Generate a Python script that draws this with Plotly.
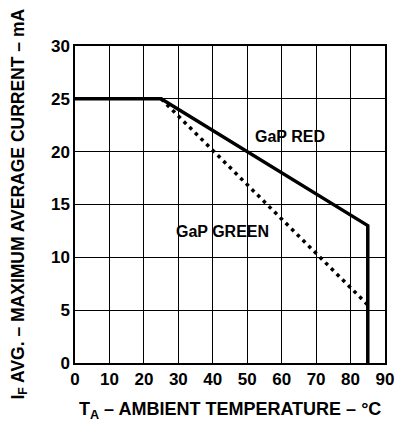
import plotly.graph_objects as go

# Data
red_x = [0, 25, 85, 85]
red_y = [25, 25, 13, 0]
green_x = [25, 85]
green_y = [25, 5.5]
x_ticks = [0, 10, 20, 30, 40, 50, 60, 70, 80, 90]
y_ticks = [0, 5, 10, 15, 20, 25, 30]
red_label = "GaP RED"
green_label = "GaP GREEN"
x_title = "T<sub>A</sub> – AMBIENT TEMPERATURE – °C"
y_title = "I<sub>F</sub> AVG. – MAXIMUM AVERAGE CURRENT – mA"

FONT = "Liberation Sans, Arial, sans-serif"

fig = go.Figure()
fig.add_trace(go.Scatter(x=red_x, y=red_y, mode="lines",
                         line=dict(color="black", width=3.5), showlegend=False))
fig.add_trace(go.Scatter(x=green_x, y=green_y, mode="lines",
                         line=dict(color="black", width=3.5, dash="3.5px,4.5px"), showlegend=False))

fig.add_annotation(x=62.5, y=21.4, text="<b>" + red_label + "</b>", showarrow=False,
                   font=dict(family=FONT, size=16, color="black"))
fig.add_annotation(x=42.8, y=12.4, text="<b>" + green_label + "</b>", showarrow=False,
                   font=dict(family=FONT, size=16, color="black"))

fig.add_annotation(xref="paper", yref="paper", x=0.5, y=0, yshift=-47,
                   text="<b>" + x_title + "</b>", showarrow=False,
                   xanchor="center", yanchor="middle",
                   font=dict(family=FONT, size=18, color="black"))
fig.add_annotation(xref="paper", yref="paper", x=0, xshift=-56, y=0.5,
                   text="<b>" + y_title + "</b>", showarrow=False, textangle=-90,
                   xanchor="center", yanchor="middle",
                   font=dict(family=FONT, size=17.5, color="black"))

axis_common = dict(showgrid=True, gridcolor="black", gridwidth=1.2,
                   showline=True, linecolor="black", linewidth=1.5, mirror=True,
                   ticks="", zeroline=False,
                   tickfont=dict(family=FONT, size=17, color="black", weight="bold"))

fig.update_xaxes(range=[0, 90], tickvals=x_ticks, ticktext=[str(v) for v in x_ticks],
                 **axis_common)
fig.update_yaxes(range=[0, 30], tickvals=y_ticks, ticktext=[str(v) for v in y_ticks],
                 **axis_common)

# page body has an 8px margin; figure sized/offset to compensate
fig.update_layout(width=398, height=415,
                  margin=dict(l=67, r=14, t=38, b=60),
                  plot_bgcolor="white", paper_bgcolor="white",
                  font=dict(family=FONT, color="black"))

fig.write_html("out.html")
